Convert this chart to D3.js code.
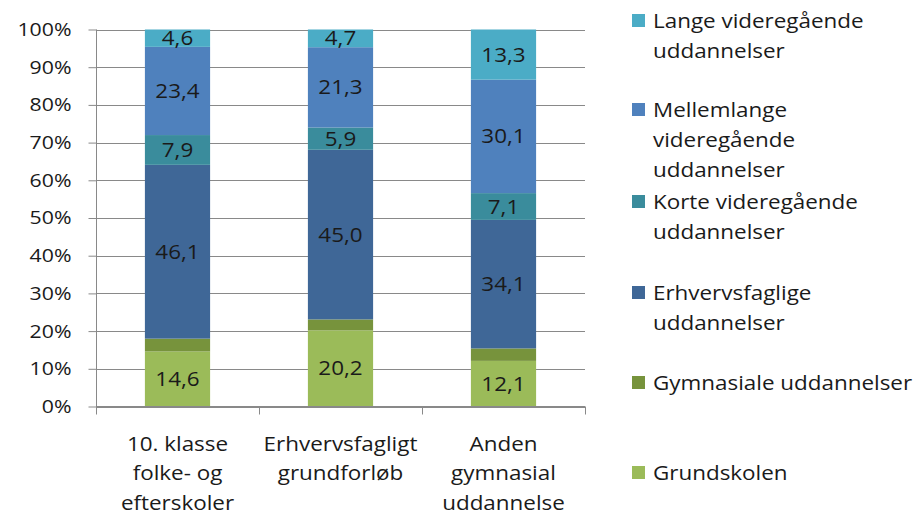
<!DOCTYPE html>
<html><head><meta charset="utf-8">
<script src="https://cdn.jsdelivr.net/npm/d3@7"></script>
<style>body{margin:0;background:#fff}text{font-family:"Open Sans",sans-serif;fill:#1a1a1a}</style>
</head><body><svg id="c" width="918" height="515"></svg>
<script>
const categories = [["10. klasse","folke- og","efterskoler"],["Erhvervsfagligt","grundforløb"],["Anden","gymnasial","uddannelse"]];
const seriesNames = ["Grundskolen","Gymnasiale uddannelser","Erhvervsfaglige uddannelser","Korte videregående uddannelser","Mellemlange videregående uddannelser","Lange videregående uddannelser"];
const grundskolen = [14.6, 20.2, 12.1];
const gymnasiale = [3.4, 2.9, 3.3];
const erhvervsfaglige = [46.1, 45.0, 34.1];
const korte = [7.9, 5.9, 7.1];
const mellemlange = [23.4, 21.3, 30.1];
const lange = [4.6, 4.7, 13.3];
const showLabel = [true, false, true, true, true, true];
const colors = ["#9BBB59","#77933C","#3F6797","#3A8C9C","#4F81BD","#4BACC6"];
const yTicks = [0,10,20,30,40,50,60,70,80,90,100];
const legendLines = [["Lange videregående","uddannelser"],["Mellemlange","videregående","uddannelser"],["Korte videregående","uddannelser"],["Erhvervsfaglige","uddannelser"],["Gymnasiale uddannelser"],["Grundskolen"]];
const legendY = [21, 110, 202, 293, 383, 473];

const allSeries = [grundskolen, gymnasiale, erhvervsfaglige, korte, mellemlange, lange];
const rows = categories.map((c,i)=>{const o={i}; allSeries.forEach((s,k)=>o[k]=s[i]); return o;});
const stack = d3.stack().keys(d3.range(allSeries.length)).offset(d3.stackOffsetExpand)(rows);

const svg = d3.select("#c");
const x = d3.scaleBand().domain(d3.range(categories.length)).range([96,585]).paddingInner(0.6).paddingOuter(0.3);
const y = d3.scaleLinear().domain([0,1]).range([406.5,29.5]);
const FS = 19.5, SX = 1.15;
const hs = ax => `translate(${ax},0) scale(${SX},1) translate(${-ax},0)`;

svg.append("g").selectAll("line").data(yTicks).join("line")
  .attr("x1",96).attr("x2",585).attr("y1",d=>Math.round(y(d/100))+0.5).attr("y2",d=>Math.round(y(d/100))+0.5)
  .attr("stroke","#898989").attr("stroke-width",1);

const g = svg.append("g");
stack.forEach((layer,k)=>{
  g.selectAll(null).data(layer).join("rect")
    .attr("x",(d,i)=>x(i)).attr("width",x.bandwidth())
    .attr("y",d=>y(d[1])).attr("height",d=>y(d[0])-y(d[1]))
    .attr("fill",colors[k]);
  if(showLabel[k]){
    g.selectAll(null).data(layer).join("text")
      .attr("x",(d,i)=>x(i)+x.bandwidth()/2).attr("y",d=>y((d[0]+d[1])/2))
      .attr("transform",(d,i)=>hs(x(i)+x.bandwidth()/2))
      .attr("dy","0.36em").attr("text-anchor","middle").attr("font-size",FS)
      .text((d,i)=>allSeries[k][i].toFixed(1).replace(".",","));
  }
});

const ya = svg.append("g").attr("transform","translate(96.5,0)")
  .call(d3.axisLeft(y).tickValues(yTicks.map(v=>v/100)).tickFormat(d=>Math.round(d*100)+"%").tickSize(8).tickPadding(17));
ya.select(".domain").attr("stroke","#898989").attr("d","M0,29.5V406.5");
ya.selectAll(".tick line").attr("stroke","#898989");
ya.selectAll("text").attr("font-size",18.5).attr("font-family","'Open Sans',sans-serif").attr("fill","#1a1a1a")
  .attr("transform",hs(-25)).attr("x",-25);

const xa = svg.append("g").attr("transform","translate(0,406.5)");
xa.append("line").attr("x1",96).attr("x2",585).attr("stroke","#898989");
const bounds = [96, ...categories.map((c,i)=>x(i)+x.bandwidth()/2+ x.step()/2)];
xa.selectAll(null).data(bounds).join("line").attr("x1",d=>Math.round(d)+0.5).attr("x2",d=>Math.round(d)+0.5).attr("y1",0).attr("y2",8).attr("stroke","#898989");
categories.forEach((lines,i)=>{
  const cx = x(i)+x.bandwidth()/2;
  const t = svg.append("text").attr("text-anchor","middle").attr("font-size",FS).attr("transform",hs(cx));
  lines.forEach((l,j)=>t.append("tspan").attr("x",cx).attr("y",451+j*29.5).text(l));
});

const lg = svg.append("g");
legendLines.forEach((lines,k)=>{
  const si = 5-k;
  lg.append("rect").attr("x",632).attr("y",legendY[k]-7).attr("width",13).attr("height",13).attr("fill",colors[si]);
  const t = lg.append("text").attr("font-size",FS).attr("transform",hs(653));
  lines.forEach((l,j)=>t.append("tspan").attr("x",653).attr("y",legendY[k]+j*30).attr("dy","0.36em").text(l));
});
</script></body></html>
